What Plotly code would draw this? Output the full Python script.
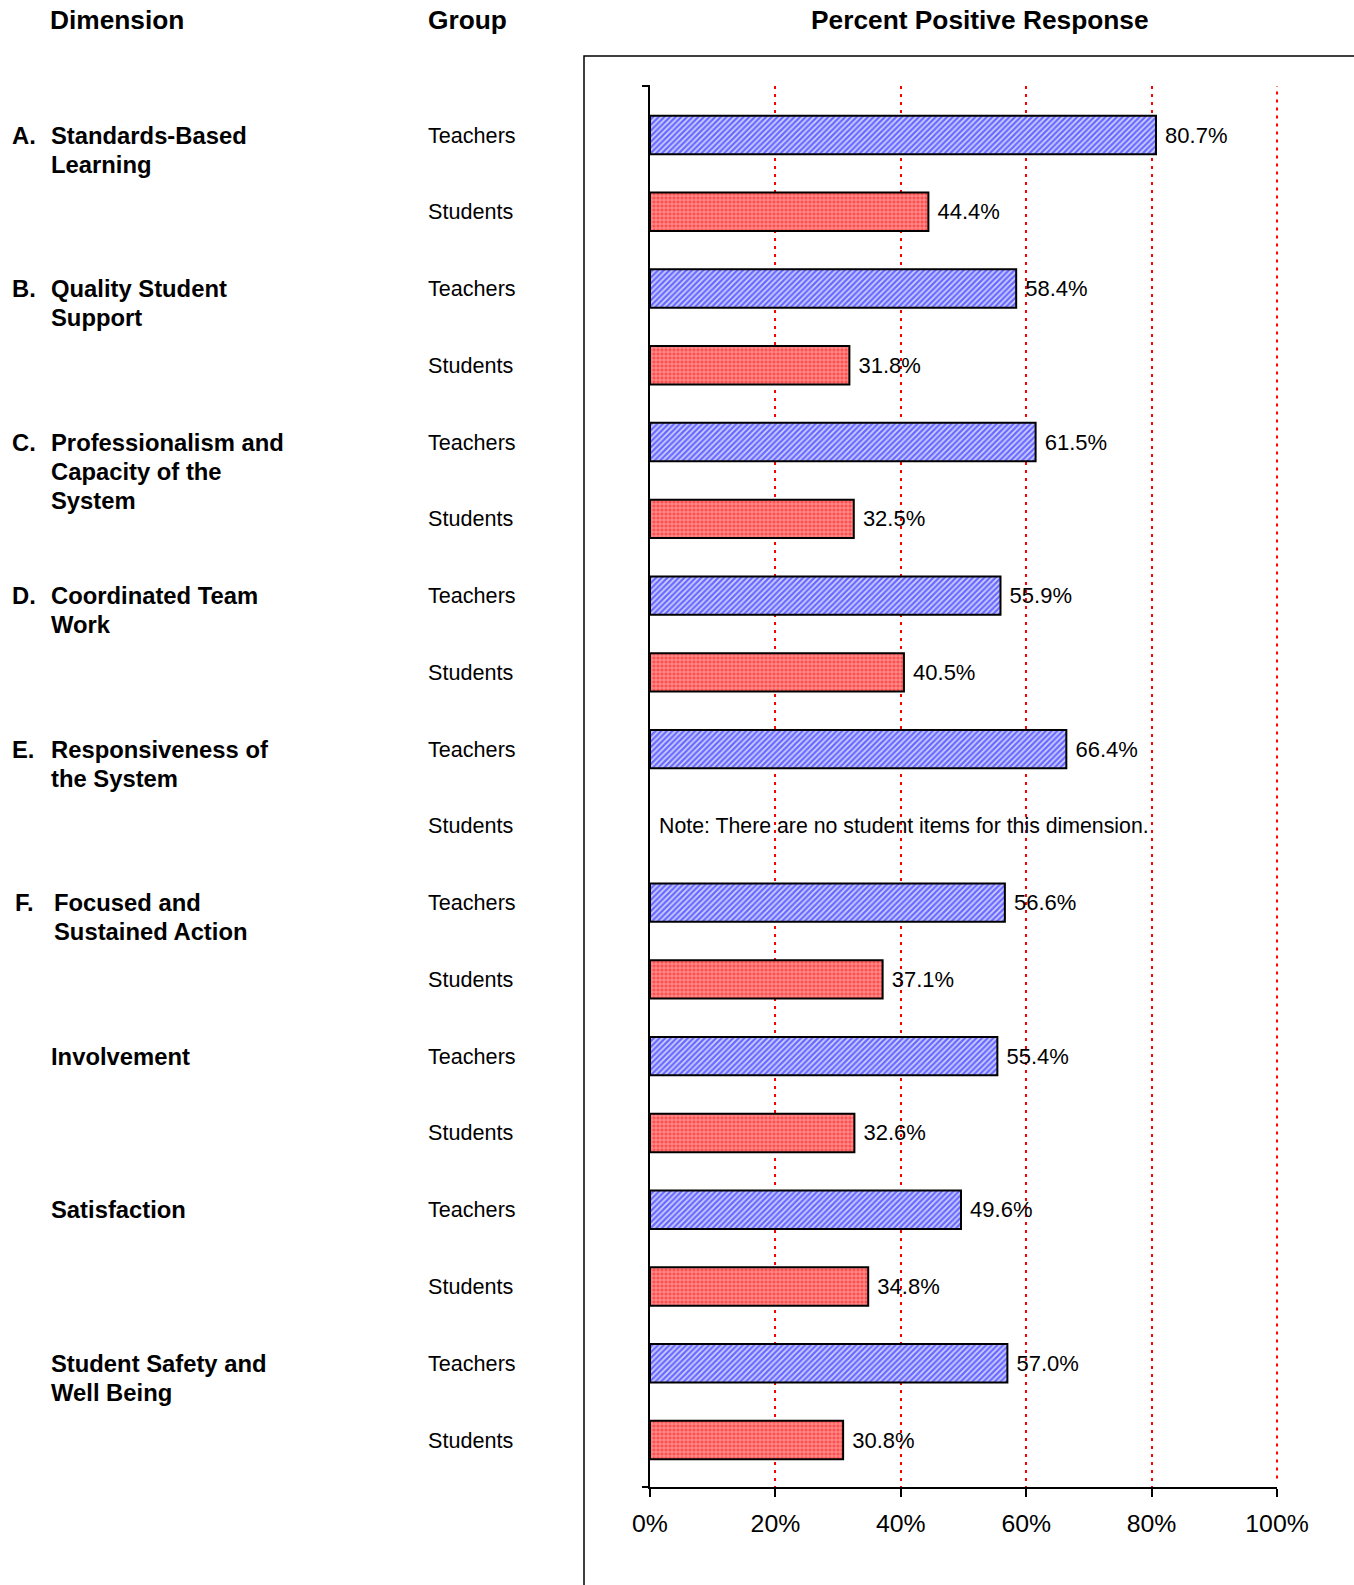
import plotly.graph_objects as go

# ---------------- data ----------------
dim_letters = ["A.", "B.", "C.", "D.", "E.", "F.", "", "", ""]
dim_lines = [
    ["Standards-Based", "Learning"],
    ["Quality Student", "Support"],
    ["Professionalism and", "Capacity of the", "System"],
    ["Coordinated Team", "Work"],
    ["Responsiveness of", "the System"],
    ["Focused and", "Sustained Action"],
    ["Involvement"],
    ["Satisfaction"],
    ["Student Safety and", "Well Being"],
]
groups = ["Teachers", "Students"]
teachers = [80.7, 58.4, 61.5, 55.9, 66.4, 56.6, 55.4, 49.6, 57.0]
students = [44.4, 31.8, 32.5, 40.5, None, 37.1, 32.6, 34.8, 30.8]
x_ticks = [0, 20, 40, 60, 80, 100]
note_text = "Note: There are no student items for this dimension."
headers = ["Dimension", "Group", "Percent Positive Response"]

# ---------------- layout geometry (pixels, page coords) ----------------
W, H = 1354, 1585
PL, PR, PT, PB = 650, 1277, 86, 1487   # plot area
FONT = "Arial, 'Liberation Sans', sans-serif"


def px(xp):
    return (xp - PL) / (PR - PL)


def py(yp):
    return (PB - yp) / (PB - PT)


n = len(teachers)
rows_t = [2 * i for i in range(n)]
rows_s = [2 * i + 1 for i in range(n)]

fig = go.Figure()
fig.add_trace(go.Bar(
    orientation="h", y=rows_t, x=teachers, width=0.5,
    marker=dict(color="white", line=dict(color="black", width=2),
                pattern=dict(shape="/", fgcolor="#0000ff", bgcolor="#d4d4ff",
                             size=4, solidity=0.6)),
    text=["\u00a0" + f"{v:.1f}%" for v in teachers],
    textposition="outside", constraintext="none", cliponaxis=False,
    textfont=dict(size=22, color="black", family=FONT),
    showlegend=False, hoverinfo="skip",
))
fig.add_trace(go.Bar(
    orientation="h", y=rows_s, x=students, width=0.5,
    marker=dict(color="white", line=dict(color="black", width=2),
                pattern=dict(shape="+", fgcolor="white", bgcolor="#ff5050",
                             size=4, solidity=0.35)),
    text=["" if v is None else "\u00a0" + f"{v:.1f}%" for v in students],
    textposition="outside", constraintext="none", cliponaxis=False,
    textfont=dict(size=22, color="black", family=FONT),
    showlegend=False, hoverinfo="skip",
))

annotations = []
# headers
hdr_x = [(48, "left"), (426, "left"), (980, "center")]
for t, (xp, anc) in zip(headers, hdr_x):
    annotations.append(dict(text=f"<b>{t}</b>", xref="paper", yref="paper",
                            x=px(xp), y=py(20), xanchor=anc, yanchor="middle",
                            showarrow=False, font=dict(size=26.3, family=FONT, color="black")))

# dimension labels
for i, (letter, lines) in enumerate(zip(dim_letters, dim_lines)):
    row = 2 * i
    off = 3 if letter == "F." else 0
    if letter:
        annotations.append(dict(text=f"<b>{letter}</b>", xref="paper", yref="y",
                                x=px(10 + off), y=row, yshift=0, xanchor="left",
                                yanchor="middle", showarrow=False,
                                font=dict(size=23.8, family=FONT, color="black")))
    for k, line in enumerate(lines):
        annotations.append(dict(text=f"<b>{line}</b>", xref="paper", yref="y",
                                x=px(49 + off), y=row, yshift=0 - 29 * k,
                                xanchor="left", yanchor="middle", showarrow=False,
                                font=dict(size=23.8, family=FONT, color="black")))

# group labels
for i in range(n):
    for j, g in enumerate(groups):
        annotations.append(dict(text=g, xref="paper", yref="y", x=px(426),
                                y=2 * i + j, xanchor="left", yanchor="middle",
                                showarrow=False,
                                font=dict(size=21.6, family=FONT, color="black")))

# note for missing student data
for i, v in enumerate(students):
    if v is None:
        annotations.append(dict(text=note_text, xref="paper", yref="y", x=px(657),
                                y=2 * i + 1, xanchor="left", yanchor="middle",
                                showarrow=False,
                                font=dict(size=21.3, family=FONT, color="black")))

shapes = [
    # outer frame
    dict(type="rect", xref="paper", yref="paper", x0=px(584), x1=px(1380),
         y0=py(1620), y1=py(56), line=dict(color="black", width=1.5), layer="below"),
    # gridline at 100%
    dict(type="line", xref="paper", yref="paper", x0=1, x1=1, y0=0.006, y1=1,
         line=dict(color="#ff0000", width=2, dash="3px,5px"), layer="below"),
    # top tick of y axis
    dict(type="line", xref="paper", yref="paper", x0=px(642), x1=px(650),
         y0=1, y1=1, line=dict(color="black", width=2)),
    # left extension of x axis
    dict(type="line", xref="paper", yref="paper", x0=px(642), x1=px(650),
         y0=0, y1=0, line=dict(color="black", width=2)),
]

slot = (1440 - 135) / 17.0
y_top = -(135 - PT) / slot
y_bot = 17 + (PB - 1440) / slot

fig.update_layout(
    width=W, height=H,
    margin=dict(l=PL, r=W - PR, t=PT, b=H - PB, pad=0),
    paper_bgcolor="white", plot_bgcolor="white",
    barmode="overlay",
    font=dict(family=FONT, color="black"),
    annotations=annotations, shapes=shapes,
    xaxis=dict(range=[0, 100], tickvals=x_ticks,
               ticktext=[f"{v}%" for v in x_ticks],
               showline=True, linecolor="black", linewidth=2,
               ticks="outside", ticklen=8, tickwidth=2, tickcolor="black",
               tickfont=dict(size=24.8, family=FONT, color="black"),
               ticklabelstandoff=5,
               showgrid=True, gridcolor="#ff0000", gridwidth=2, griddash="3px,5px",
               zeroline=False, fixedrange=True),
    yaxis=dict(range=[y_bot, y_top], showline=True, linecolor="black", linewidth=2,
               showticklabels=False, ticks="", showgrid=False, zeroline=False,
               fixedrange=True),
)

fig.write_html("out.html", config={"displayModeBar": False},
               post_script="document.body.style.margin='0';document.body.style.overflow='hidden';")
